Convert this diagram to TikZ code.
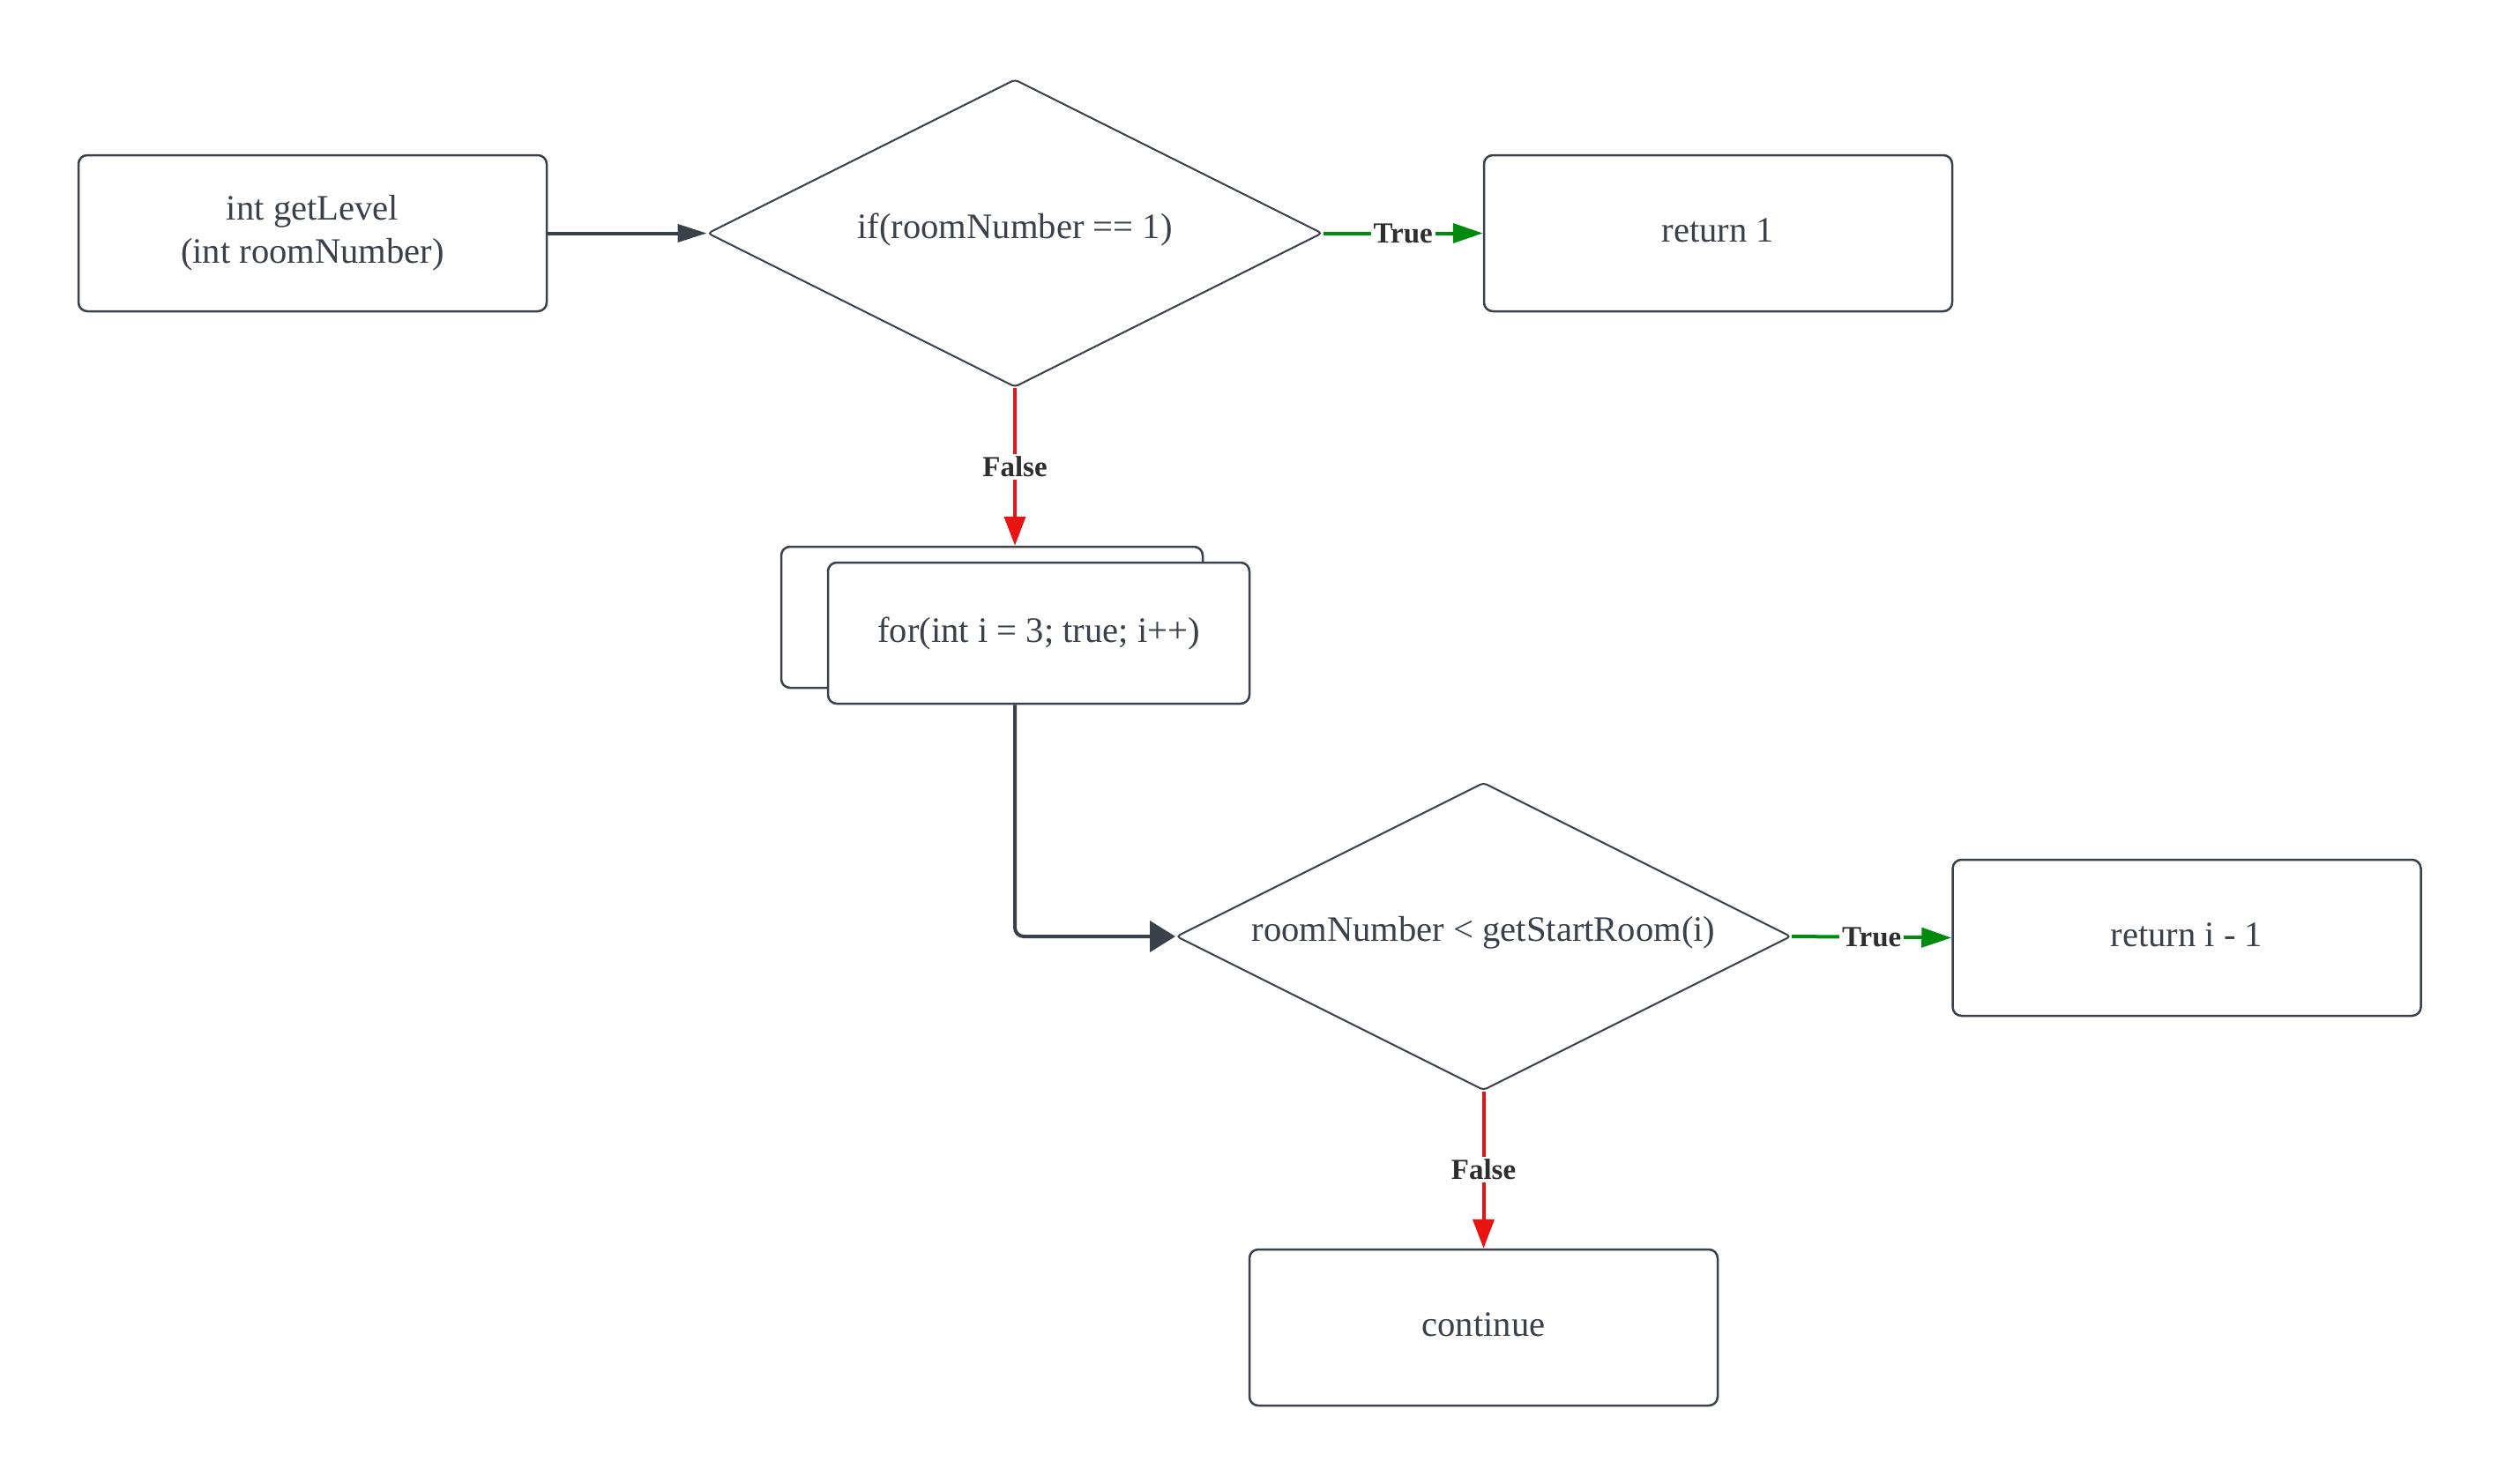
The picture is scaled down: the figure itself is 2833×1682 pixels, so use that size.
\documentclass[tikz,border=0pt]{standalone}
\usepackage{fontspec}
\setmainfont{Liberation Serif}
\usetikzlibrary{shapes.geometric,arrows.meta}
\definecolor{ink}{HTML}{3A414A}
\definecolor{lblink}{HTML}{2E2E2E}
\definecolor{tgreen}{HTML}{008A0E}
\definecolor{fred}{HTML}{E81313}
\tikzset{
  box/.style={draw=ink, line width=1.25pt, rounded corners=5pt, fill=white,
    minimum width=265.5pt, minimum height=88.5pt, text=ink,
    font=\fontsize{20.3}{24.5}\selectfont, align=center, inner sep=0pt},
  onebox/.style={box, text height=15pt, text depth=5pt},
  forbox/.style={onebox, minimum width=239pt, minimum height=80pt},
  dia/.style={draw=ink, line width=1pt, shape=diamond, rounded corners=2pt,
    minimum width=348.5pt, minimum height=174.5pt, inner sep=0pt, fill=white},
  diatext/.style={text=ink, font=\fontsize{20.3}{24.5}\selectfont, inner sep=0pt,
    yshift=2pt},
  conn/.style={draw=ink, line width=2pt},
  yes/.style={draw=tgreen, line width=2pt, -{Triangle[length=17pt,width=11pt]}},
  no/.style={draw=fred, line width=2pt, -{Triangle[length=16.5pt,width=12pt]}},
  lbl/.style={fill=white, text=lblink, inner sep=1.5pt,
    font=\fontsize{16.5}{19}\selectfont\bfseries},
}
\begin{document}
\begin{tikzpicture}[x=0.5pt, y=-0.5pt]
\useasboundingbox (0,0) rectangle (2833,1682);
\node[box] (start) at (354.5,264.5) {int getLevel\\(int roomNumber)};
\node[dia] (d1) at (1151,264.5) {};
\node[diatext] (d1t) at (d1.center) {if(roomNumber == 1)};
\node[onebox] (ret1) at (1948.5,264.5) {return 1};
\node[forbox] (back) at (1125,700) {};
\node[forbox] (for) at (1178,718) {for(int i = 3; true; i++)};
\node[dia] (d2) at (1682.5,1062) {};
\node[diatext] (d2t) at (d2.center) {roomNumber < getStartRoom(i)};
\node[onebox] (ret2) at (2480,1063.5) {return i - 1};
\node[onebox] (cont) at (1682.5,1505.5) {continue};

\draw[conn, -{Triangle[length=16.5pt,width=10pt]}] (start.east) -- (d1.west);
\draw[yes] (d1.east) -- node[lbl] {True} (ret1.west);
\draw[no] (d1.south) -- node[lbl] {False} (d1.south |- back.north);
\draw[conn, rounded corners=5pt, -{Triangle[length=14.5pt,width=17.5pt]}]
  (for.south -| d1.south) |- (d2.west);
\draw[yes] (d2.east) -- node[lbl] {True} (ret2.west);
\draw[no] (d2.south) -- node[lbl] {False} (cont.north);
\end{tikzpicture}
\end{document}
